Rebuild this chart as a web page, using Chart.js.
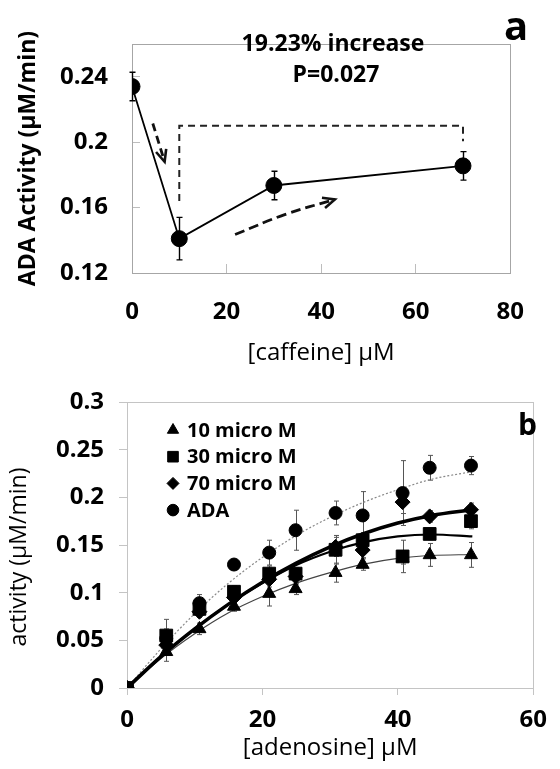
<!DOCTYPE html>
<html>
<head>
<meta charset="utf-8">
<script src="https://cdn.jsdelivr.net/npm/chart.js@4.4.1/dist/chart.umd.min.js"></script>
<style>
  html, body { margin: 0; padding: 0; background: #fff; }
  #wrap { position: relative; width: 560px; height: 769px; }
  #chartA { position: absolute; left: 0; top: 0; }
  #chartB { position: absolute; left: 0; top: 375px; }
</style>
</head>
<body>
<div id="wrap">
  <canvas id="chartA" width="560" height="375"></canvas>
  <canvas id="chartB" width="560" height="394"></canvas>
</div>
<script>
const FONT = "'Open Sans', sans-serif";

// ---- panel a : ADA activity vs caffeine
const caffeine = [0, 10, 30, 70];
const adaActivity = [0.234, 0.141, 0.1735, 0.1855];
const adaActivityErr = [0.0087, 0.013, 0.0087, 0.0087];
const caffeineTicks = [0, 20, 40, 60, 80];
const activityTicksA = [0.12, 0.16, 0.2, 0.24];

// dashed bracket and the two dashed arrows
const bracketX = [10, 10, 70, 70];
const bracketY = [0.164, 0.21, 0.21, 0.2005];
const arrowDownX = [4.4, 6.9];
const arrowDownY = [0.2114, 0.188];
const arrowUpX = [21.8, 32.3, 42.9];
const arrowUpY = [0.1435, 0.1557, 0.165];

// ---- panel b : activity vs adenosine
const adenosine = [0, 5.8, 10.7, 15.8, 21, 24.9, 30.8, 34.8, 40.7, 44.7, 50.8];
const act10 = [0, 0.038, 0.062, 0.0855, 0.099, 0.104, 0.121, 0.1295, 0.136, 0.1396, 0.1396];
const act10Err = [0, 0.010, 0.006, 0.005, 0.013, 0.006, 0.010, 0.006, 0.006, 0.012, 0.013];
const act30 = [0, 0.055, 0.083, 0.101, 0.12, 0.12, 0.145, 0.155, 0.138, 0.1616, 0.175];
const act30Err = [0, 0.017, 0.006, 0.006, 0.008, 0.006, 0.015, 0.008, 0.017, 0.006, 0.008];
const act70 = [0, 0.045, 0.080, 0.095, 0.114, 0.117, 0.148, 0.1447, 0.195, 0.180, 0.187];
const act70Err = [0, 0.008, 0.006, 0.006, 0.008, 0.008, 0.010, 0.008, 0.012, 0.006, 0.007];
const actAda = [0, 0.052, 0.089, 0.1295, 0.142, 0.1655, 0.1836, 0.181, 0.2045, 0.231, 0.2333];
const actAdaErr = [0, 0.010, 0.009, 0.004, 0.013, 0.021, 0.0125, 0.025, 0.034, 0.013, 0.0095];

// fitted curves
const fitX = [0, 5, 10, 15, 20, 25, 30, 35, 40, 45, 51];
const fit10 = [0, 0.031, 0.057, 0.079, 0.096, 0.110, 0.121, 0.130, 0.136, 0.139, 0.140];
const fit30 = [0, 0.033, 0.062, 0.088, 0.110, 0.129, 0.143, 0.153, 0.159, 0.161, 0.159];
const fit70 = [0, 0.033, 0.062, 0.088, 0.111, 0.131, 0.148, 0.162, 0.173, 0.181, 0.187];
const fitAda = [0, 0.041, 0.078, 0.110, 0.137, 0.160, 0.179, 0.195, 0.208, 0.219, 0.227];

const adenosineTicks = [0, 20, 40, 60];
const activityTicksB = [0, 0.05, 0.1, 0.15, 0.2, 0.25, 0.3];
const legendLabels = ['10 micro M', '30 micro M', '70 micro M', 'ADA'];

const pts = (xs, ys) => xs.map((x, i) => ({ x: x, y: ys[i] }));

// ---- small plugins
const frame = {
  id: 'frame',
  beforeDatasetsDraw(chart, args, opts) {
    const { ctx, chartArea: a } = chart;
    ctx.save();
    ctx.strokeStyle = opts.color || '#aaa';
    ctx.lineWidth = 1;
    ctx.strokeRect(Math.round(a.left) + 0.5, Math.round(a.top) + 0.5,
      Math.round(a.right - a.left), Math.round(a.bottom - a.top));
    ctx.restore();
  }
};

const errorBars = {
  id: 'errorBars',
  beforeDatasetsDraw(chart) {
    const { ctx, scales } = chart;
    chart.data.datasets.forEach((ds, di) => {
      if (!ds.errs) return;
      ctx.save();
      ctx.strokeStyle = ds.errColor || '#000';
      ctx.lineWidth = ds.errWidth || 1;
      ds.data.forEach((p, i) => {
        const e = ds.errs[i];
        if (!e) return;
        const px = Math.round(scales.x.getPixelForValue(p.x)) + 0.5;
        const y1 = scales.y.getPixelForValue(p.y + e);
        const y2 = scales.y.getPixelForValue(p.y - e);
        const c = ds.errCap || 3;
        ctx.beginPath();
        ctx.moveTo(px, y1); ctx.lineTo(px, y2);
        ctx.moveTo(px - c, y1); ctx.lineTo(px + c, y1);
        ctx.moveTo(px - c, y2); ctx.lineTo(px + c, y2);
        ctx.stroke();
      });
      ctx.restore();
    });
  }
};

const arrowHeads = {
  id: 'arrowHeads',
  afterDatasetsDraw(chart) {
    const ctx = chart.ctx;
    chart.data.datasets.forEach((ds, di) => {
      if (!ds.arrow) return;
      const el = chart.getDatasetMeta(di).data;
      const end = el[el.length - 1];
      const prev = el[el.length - 2];
      let fx = prev.x, fy = prev.y;
      if (end.cp1x !== undefined && (end.cp1x !== end.x || end.cp1y !== end.y)) {
        fx = end.cp1x; fy = end.cp1y;
      }
      const ang = Math.atan2(end.y - fy, end.x - fx);
      const L = 13, w = 0.42;
      ctx.save();
      ctx.strokeStyle = '#111';
      ctx.lineWidth = 2.6;
      ctx.setLineDash([]);
      ctx.beginPath();
      ctx.moveTo(end.x - L * Math.cos(ang - w), end.y - L * Math.sin(ang - w));
      ctx.lineTo(end.x, end.y);
      ctx.lineTo(end.x - L * Math.cos(ang + w), end.y - L * Math.sin(ang + w));
      ctx.stroke();
      ctx.restore();
    });
  }
};

const texts = {
  id: 'texts',
  afterDraw(chart, args, opts) {
    const ctx = chart.ctx;
    (opts.items || []).forEach(t => {
      ctx.save();
      ctx.font = t.font;
      ctx.fillStyle = t.color || '#000';
      ctx.textAlign = t.align || 'center';
      ctx.textBaseline = t.baseline || 'middle';
      ctx.translate(t.x, t.y);
      if (t.rot) ctx.rotate(t.rot);
      ctx.fillText(t.text, 0, 0);
      ctx.restore();
    });
  }
};

// legend drawn inside the plot area of panel b
const innerLegend = {
  id: 'innerLegend',
  afterDatasetsDraw(chart, args, opts) {
    const { ctx, chartArea: a } = chart;
    legendLabels.forEach((lab, i) => {
      const ds = chart.data.datasets.find(d => d.label === lab);
      const y = a.top + opts.top + i * opts.step;
      const x = a.left + opts.left;
      ctx.save();
      ctx.fillStyle = '#000';
      ctx.strokeStyle = '#000';
      ctx.lineWidth = 1;
      if (Chart.helpers && Chart.helpers.drawPoint) {
        Chart.helpers.drawPoint(ctx, { pointStyle: ds.pointStyle, radius: opts.radius[i], rotation: 0, borderWidth: 1 }, x, y);
      } else {
        ctx.beginPath(); ctx.arc(x, y, 5.5, 0, Math.PI * 2); ctx.fill();
      }
      ctx.font = 'bold 20px ' + FONT;
      ctx.textAlign = 'left';
      ctx.textBaseline = 'middle';
      ctx.fillText(lab, x + opts.gap, y + 1);
      ctx.restore();
    });
  }
};

const tickFont = { family: FONT, size: 24, weight: 'bold', lineHeight: 1 };

// ---- chart a
new Chart(document.getElementById('chartA'), {
  type: 'scatter',
  data: {
    datasets: [
      {
        label: 'ADA',
        data: pts(caffeine, adaActivity),
        errs: adaActivityErr, errCap: 3, errWidth: 1.4,
        showLine: true,
        borderColor: '#000', borderWidth: 1.8,
        backgroundColor: '#000',
        pointStyle: 'circle', pointRadius: 8, pointBorderWidth: 1,
        pointBackgroundColor: '#000', pointBorderColor: '#000'
      },
      {
        label: 'bracket',
        data: pts(bracketX, bracketY),
        showLine: true, tension: 0,
        borderColor: '#222', borderWidth: 2, borderDash: [7, 5],
        pointRadius: 0
      },
      {
        label: 'arrow1',
        data: pts(arrowDownX, arrowDownY),
        arrow: true,
        showLine: true,
        borderColor: '#111', borderWidth: 2.8, borderDash: [8, 5],
        pointRadius: 0
      },
      {
        label: 'arrow2',
        data: pts(arrowUpX, arrowUpY),
        arrow: true,
        showLine: true, tension: 0.4,
        borderColor: '#111', borderWidth: 2.8, borderDash: [10, 5],
        pointRadius: 0
      }
    ]
  },
  options: {
    responsive: false,
    animation: false,
    events: [],
    layout: { padding: { top: 13, right: 25, left: 0, bottom: 0 } },
    plugins: {
      legend: { display: false },
      tooltip: { enabled: false },
      frame: { color: '#a6a6a6' },
      texts: {
        items: [
          { text: '19.23% increase', x: 333, y: 44, font: 'bold 23px ' + FONT },
          { text: 'P=0.027', x: 336, y: 75, font: 'bold 23px ' + FONT },
          { text: 'a', x: 504, y: 40, font: 'bold 40px ' + FONT, align: 'left', baseline: 'alphabetic' }
        ]
      }
    },
    scales: {
      x: {
        type: 'linear', min: 0, max: 80,
        afterBuildTicks: s => { s.ticks = caffeineTicks.map(v => ({ value: v })); },
        afterFit: s => { s.height = 102; },
        border: { display: false },
        grid: { drawOnChartArea: false, tickLength: -9, color: '#bdbdbd' },
        ticks: { padding: 36, color: '#000', font: tickFont, maxRotation: 0, autoSkip: false },
        title: {
          display: true, text: '[caffeine] μM', color: '#000',
          font: { family: FONT, size: 24 }, padding: { top: 0, bottom: 7.6 }
        }
      },
      y: {
        min: 0.12, max: 0.26,
        afterBuildTicks: s => { s.ticks = activityTicksA.map(v => ({ value: v })); },
        afterFit: s => { s.width = 132; },
        border: { display: false },
        grid: { drawOnChartArea: false, tickLength: -8, color: '#bdbdbd' },
        ticks: { padding: 32, color: '#000', font: tickFont, callback: v => String(v) },
        title: {
          display: true, text: 'ADA Activity (μM/min)', color: '#000',
          font: { family: FONT, size: 23, weight: 'bold' }, padding: { top: 15, bottom: 0 }
        }
      }
    }
  },
  plugins: [frame, errorBars, arrowHeads, texts]
});

// ---- chart b
const markerSet = (label, ys, errs, style, r) => ({
  label: label,
  data: pts(adenosine, ys),
  errs: errs, errCap: 2.5, errWidth: 1, errColor: '#555',
  showLine: false,
  pointStyle: style, pointRadius: r, pointBorderWidth: 1,
  pointBackgroundColor: '#000', pointBorderColor: '#000',
  backgroundColor: '#000', borderColor: '#000'
});
const fitSet = (label, ys, color, width, dash) => ({
  label: label,
  data: pts(fitX, ys),
  showLine: true,
  cubicInterpolationMode: 'monotone',
  borderColor: color, borderWidth: width, borderDash: dash || [],
  pointRadius: 0
});

new Chart(document.getElementById('chartB'), {
  type: 'scatter',
  data: {
    datasets: [
      markerSet('ADA', actAda, actAdaErr, 'circle', 6.5),
      markerSet('70 micro M', act70, act70Err, 'rectRot', 7.5),
      markerSet('30 micro M', act30, act30Err, 'rect', 9),
      markerSet('10 micro M', act10, act10Err, 'triangle', 7.5),
      fitSet('fit 70', fit70, '#000', 3.6),
      fitSet('fit 30', fit30, '#000', 2.2),
      fitSet('fit 10', fit10, '#444', 1.2),
      fitSet('fit ADA', fitAda, '#888', 1.2, [2, 2])
    ]
  },
  options: {
    responsive: false,
    animation: false,
    events: [],
    layout: { padding: { top: 17, right: 18, left: 0, bottom: 0 } },
    plugins: {
      legend: { display: false },
      tooltip: { enabled: false },
      frame: { color: '#c4c4c4' },
      innerLegend: { top: 28, step: 26.7, left: 46, gap: 14, radius: [6.5, 7.5, 6, 5.8] },
      texts: {
        items: [
          { text: 'b', x: 518, y: 60, font: 'bold 30px ' + FONT, align: 'left', baseline: 'alphabetic' },
          { text: 'activity (μM/min)', x: 19, y: 182, font: '23px ' + FONT, rot: -Math.PI / 2 }
        ]
      }
    },
    scales: {
      x: {
        type: 'linear', min: 0, max: 60,
        afterBuildTicks: s => { s.ticks = adenosineTicks.map(v => ({ value: v })); },
        afterFit: s => { s.height = 81; },
        border: { display: false },
        grid: { drawOnChartArea: false, tickLength: 7, color: '#c4c4c4' },
        ticks: { padding: 13, color: '#000', font: tickFont, maxRotation: 0, autoSkip: false },
        title: {
          display: true, text: '[adenosine] μM', color: '#000',
          font: { family: FONT, size: 24 }, padding: { top: 0, bottom: 6.3 }
        }
      },
      y: {
        min: 0, max: 0.3,
        afterBuildTicks: s => { s.ticks = activityTicksB.map(v => ({ value: v })); },
        afterFit: s => { s.width = 127; },
        border: { display: false },
        grid: { drawOnChartArea: false, tickLength: 8, color: '#c4c4c4' },
        ticks: { padding: 15, color: '#000', font: tickFont, callback: v => String(v) },
        title: { display: false }
      }
    }
  },
  plugins: [frame, errorBars, innerLegend, texts]
});
</script>
</body>
</html>
